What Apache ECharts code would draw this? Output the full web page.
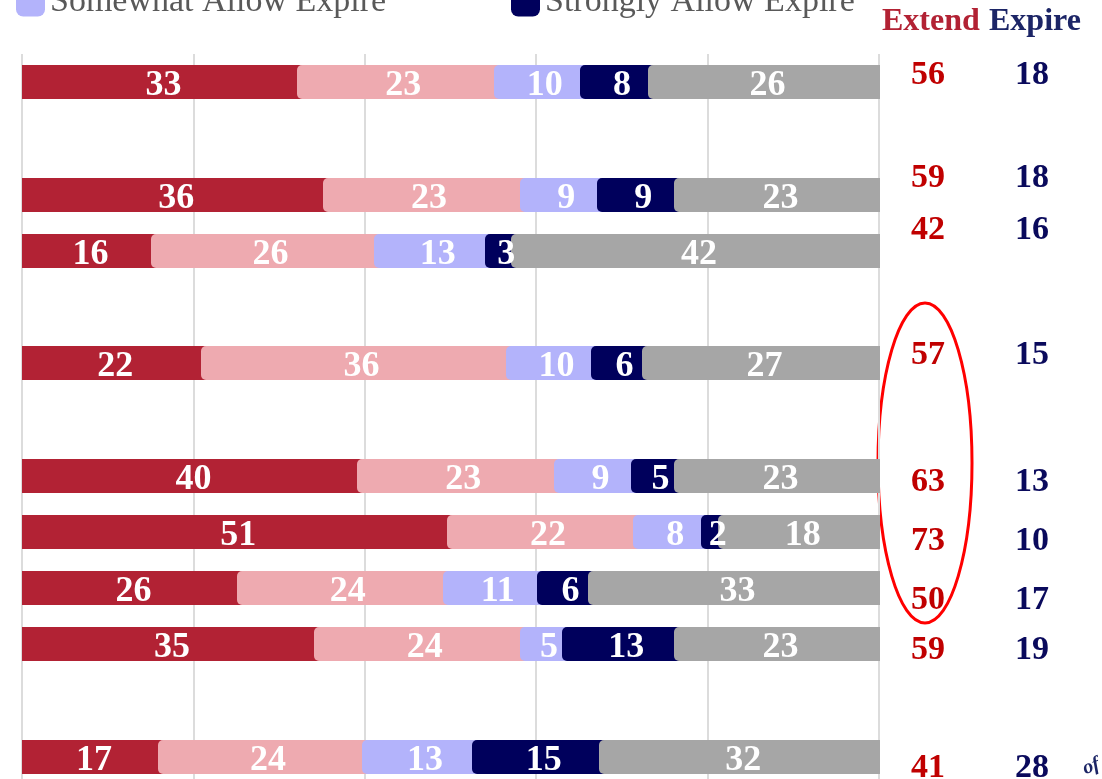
<!DOCTYPE html>
<html>
<head>
<meta charset="utf-8">
<script src="https://cdn.jsdelivr.net/npm/echarts@6/dist/echarts.min.js"></script>
<style>
  html, body { margin: 0; padding: 0; background: #fff; }
  #main { width: 1102px; height: 779px; }
</style>
</head>
<body>
<div id="main"></div>
<script>
// rows top to bottom, gaps are the empty slots
var rows = ['r1', 'gap1', 'r2', 'r3', 'gap2', 'r4', 'gap3', 'r5', 'r6', 'r7', 'r8', 'gap4', 'r9'];
var seriesNames = ['Strongly Extend', 'Somewhat Extend', 'Somewhat Allow Expire', 'Strongly Allow Expire', 'Unsure'];

var strongExtend = [33, null, 36, 16, null, 22, null, 40, 51, 26, 35, null, 17];
var someExtend   = [23, null, 23, 26, null, 36, null, 23, 22, 24, 24, null, 24];
var someExpire   = [10, null, 9, 13, null, 10, null, 9, 8, 11, 5, null, 13];
var strongExpire = [8, null, 9, 3, null, 6, null, 5, 2, 6, 13, null, 15];
var unsure       = [26, null, 23, 42, null, 27, null, 23, 18, 33, 23, null, 32];

var extendTotals = [56, null, 59, 42, null, 57, null, 63, 73, 50, 59, null, 41];
var expireTotals = [18, null, 18, 16, null, 15, null, 13, 10, 17, 19, null, 28];

var colors = ['#b22234', '#eeaab0', '#b3b3fb', '#00005c', '#a6a6a6'];
var sideNudge = [-7, 0, -16, -20, 0, -8, 0, 7, 10, 12, 6, 0, 12];

var chartDom = document.getElementById('main');
var myChart = echarts.init(chartDom);

var allSeries = [strongExtend, someExtend, someExpire, strongExpire, unsure];

// each segment: [start, row, width, raw] normalised to row total
function buildSegments(k) {
  var out = [];
  for (var i = 0; i < rows.length; i++) {
    if (allSeries[k][i] == null) continue;
    var total = 0, before = 0;
    for (var j = 0; j < allSeries.length; j++) {
      total += allSeries[j][i];
      if (j < k) before += allSeries[j][i];
    }
    out.push([before / total * 100, i, allSeries[k][i] / total * 100, allSeries[k][i]]);
  }
  return out;
}

function makeSegRender(k) {
  var last = k === allSeries.length - 1;
  return function (params, api) {
    var start = api.value(0), row = api.value(1), w = api.value(2), raw = api.value(3);
    var a = api.coord([start, row]);
    var e = api.coord([start + w, row]);
    var c = api.coord([start + w / 2, row]);
    var h = 34;
    var left = Math.round(k === 0 ? a[0] : a[0] - 8);
    var right = Math.round(last ? e[0] + 1 : e[0] + 12);
    return {
      type: 'group',
      children: [{
        type: 'rect',
        shape: { x: left, y: Math.round(a[1] - h / 2), width: right - left, height: h, r: k === 0 ? 0 : [5, 0, 0, 5] },
        style: { fill: colors[k] }
      }, {
        type: 'text',
        z2: 100,
        style: {
          text: String(raw), x: c[0], y: c[1] + 4,
          align: 'center', verticalAlign: 'middle',
          fill: '#fff', font: 'bold 36px "Liberation Serif"'
        }
      }]
    };
  };
}

function sideData(arr, col) {
  var out = [];
  for (var i = 0; i < arr.length; i++) {
    if (arr[i] != null) out.push([col, i, arr[i]]);
  }
  return out;
}

function makeSideRender(color) {
  return function (params, api) {
    var p = api.coord([api.value(0), api.value(1)]);
    var row = api.value(1);
    return {
      type: 'text',
      style: {
        text: String(api.value(2)), x: p[0], y: p[1] + sideNudge[row],
        align: 'center', verticalAlign: 'middle',
        fill: color, font: 'bold 34px "Liberation Serif"'
      }
    };
  };
}

var series = [];
for (var k = 0; k < seriesNames.length; k++) {
  series.push({
    name: seriesNames[k],
    type: 'custom',
    xAxisIndex: 0,
    yAxisIndex: 0,
    itemStyle: { color: colors[k] },
    encode: { x: 0, y: 1 },
    renderItem: makeSegRender(k),
    data: buildSegments(k)
  });
}
series.push({
  name: 'Extend', type: 'custom', xAxisIndex: 1, yAxisIndex: 1,
  encode: { x: 0, y: 1 }, renderItem: makeSideRender('#c00000'),
  data: sideData(extendTotals, 0.5)
});
series.push({
  name: 'Expire', type: 'custom', xAxisIndex: 1, yAxisIndex: 1,
  encode: { x: 0, y: 1 }, renderItem: makeSideRender('#0a0a5c'),
  data: sideData(expireTotals, 1.5)
});

var legendBase = {
  top: -15,
  padding: 0,
  itemWidth: 29,
  itemHeight: 29,
  icon: 'roundRect',
  selectedMode: false,
  textStyle: { fontFamily: 'Liberation Serif', fontSize: 34, color: '#595959' }
};

// row index axis: half a row above the first bar, grid runs off the bottom
var rowAxis = { type: 'value', min: -0.5, max: rows.length - 0.6, inverse: true, show: false, splitLine: { show: false } };

var option = {
  backgroundColor: '#fff',
  animation: false,
  legend: [
    Object.assign({}, legendBase, { left: 16, data: ['Somewhat Allow Expire'] }),
    Object.assign({}, legendBase, { left: 511, data: ['Strongly Allow Expire'] })
  ],
  grid: [
    { left: 22, top: 54, width: 857, bottom: 0 },
    { left: 876, top: 54, width: 208, bottom: 0 }
  ],
  xAxis: [{
    type: 'value', min: 0, max: 100, interval: 20,
    axisLabel: { show: false }, axisLine: { show: false }, axisTick: { show: false },
    splitLine: { lineStyle: { color: '#dcdcdc', width: 2 } }
  }, {
    gridIndex: 1, type: 'value', min: 0, max: 2, show: false
  }],
  yAxis: [
    rowAxis,
    Object.assign({}, rowAxis, { gridIndex: 1 })
  ],
  graphic: [
    {
      type: 'text', left: 882, top: 6,
      style: { text: 'Extend', fill: '#b22234', font: 'bold 32px "Liberation Serif"' }
    },
    {
      type: 'text', left: 989, top: 6,
      style: { text: 'Expire', fill: '#1c2566', font: 'bold 32px "Liberation Serif"' }
    },
    {
      type: 'ellipse',
      shape: { cx: 925, cy: 463, rx: 47, ry: 160 },
      style: { fill: 'none', stroke: '#ff0000', lineWidth: 3 }
    },
    {
      type: 'text', x: 1080, y: 760, rotation: 0.35,
      style: { text: 'of', fill: '#1c2566', font: 'italic bold 20px "Liberation Serif"' }
    }
  ],
  series: series
};

option && myChart.setOption(option);
</script>
</body>
</html>
